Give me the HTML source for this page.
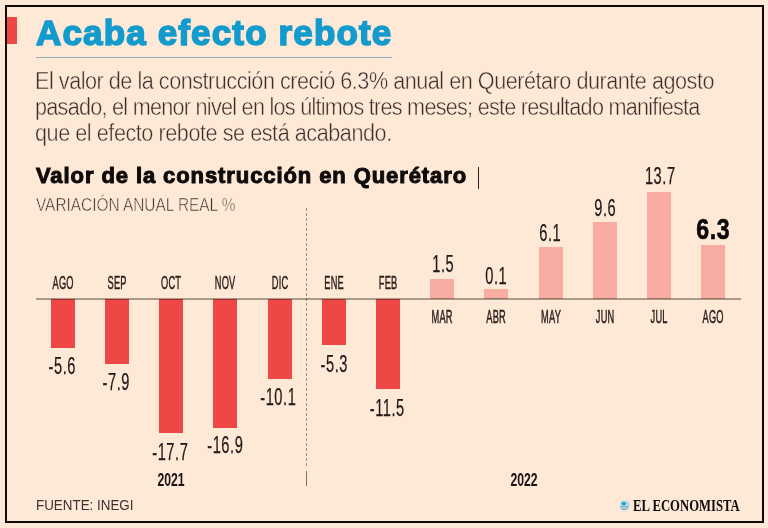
<!DOCTYPE html>
<html lang="es">
<head>
<meta charset="utf-8">
<title>Acaba efecto rebote</title>
<style>
*{margin:0;padding:0;box-sizing:border-box}
html,body{width:768px;height:528px;overflow:hidden;background:#fee8d6}
body{position:relative;font-family:"Liberation Sans",sans-serif;color:#2f2826}
.abs{position:absolute;white-space:nowrap}
#frame{position:absolute;left:5px;top:5px;width:759px;height:518px;border:2px solid #0d0a09;background:#fee8d6}
#marker{position:absolute;left:7px;top:17px;width:10px;height:27px;background:#ed4845}
#title{position:absolute;left:36px;top:11px;font:bold 35px/44px "Liberation Sans",sans-serif;color:#149bcd;letter-spacing:1.15px;-webkit-text-stroke:1.6px #149bcd}
#uline{position:absolute;left:36px;top:57px;width:356px;height:1px;background:#8fb0b8}
.lead{position:absolute;left:35px;font:23.5px/26px "Liberation Sans",sans-serif;color:#3a2f2b;transform:scaleX(0.92);transform-origin:0 0;-webkit-text-stroke:0.45px #fee8d6}
#h2{position:absolute;left:36px;top:162px;font:bold 22px/28px "Liberation Sans",sans-serif;color:#0f0b0a;letter-spacing:0.91px;-webkit-text-stroke:1px #0f0b0a}
#pipe{position:absolute;left:478px;top:166.5px;width:1px;height:22px;background:#2a1f1a}
#sub{position:absolute;left:36px;top:193.8px;font:18px/22px "Liberation Sans",sans-serif;color:#3b322e;transform:scaleX(0.855);transform-origin:0 0;-webkit-text-stroke:0.5px #fee8d6}
.bar{position:absolute;width:24px}
.neg{background:#ed4845}
.pos{background:#f8aca2}
#axis{position:absolute;left:36px;top:298px;width:705px;height:2px;background:#aaa9a4;mix-blend-mode:multiply}
#sep{position:absolute;left:306px;top:208px;width:1px;height:260px;background:repeating-linear-gradient(to bottom,#9a8e86 0 3px,transparent 3px 5px)}
#sep2{position:absolute;left:306px;top:471px;width:1px;height:15px;background:#7d716b}
.lbl{position:absolute;width:60px;margin-left:-30px;padding-left:0.5px;text-align:center;font:18.5px/20px "Liberation Sans",sans-serif;color:#2b211d;transform:scaleX(0.5);letter-spacing:0.5px;-webkit-text-stroke:0.5px #2b211d}
.val{position:absolute;width:80px;margin-left:-40px;padding-left:0.86px;text-align:center;font:23px/24px "Liberation Sans",sans-serif;color:#1f1918;transform:scaleX(0.636);letter-spacing:0.86px;-webkit-text-stroke:0.25px #1f1918}
.yr{position:absolute;width:60px;margin-left:-30px;text-align:center;font:bold 18px/20px "Liberation Sans",sans-serif;color:#1a1412;transform:scaleX(0.68)}
#src{position:absolute;left:36px;top:495px;font:15.4px/20px "Liberation Sans",sans-serif;color:#3a3130;transform:scaleX(0.87);transform-origin:0 0}
#logo{position:absolute;left:619px;top:500px;width:11px;height:11px}
#brand{position:absolute;left:633px;top:496.5px;font:bold 15.7px/18px "Liberation Serif",serif;color:#0f0b0a;transform:scaleX(0.81);transform-origin:0 0}
</style>
</head>
<body>
<div id="frame"></div>
<div id="marker"></div>
<div id="title">Acaba efecto rebote</div>
<div id="uline"></div>
<div class="lead abs" style="top:68px;letter-spacing:-0.52px">El valor de la construcción creció 6.3% anual en Querétaro durante agosto</div>
<div class="lead abs" style="top:94px;letter-spacing:-0.8px">pasado, el menor nivel en los últimos tres meses; este resultado manifiesta</div>
<div class="lead abs" style="top:120px;letter-spacing:-0.49px">que el efecto rebote se está acabando.</div>
<div id="h2" class="abs">Valor de la construcción en Querétaro</div>
<div id="pipe"></div>
<div id="sub" class="abs">VARIACIÓN ANUAL REAL %</div>

<div id="sep"></div>
<div id="sep2"></div>

<!-- bars -->
<div class="bar neg" style="left:51px;top:299px;height:49px"></div>
<div class="bar neg" style="left:105px;top:299px;height:65px"></div>
<div class="bar neg" style="left:159px;top:299px;height:134px"></div>
<div class="bar neg" style="left:213px;top:299px;height:128.5px"></div>
<div class="bar neg" style="left:268px;top:299px;height:80px"></div>
<div class="bar neg" style="left:322px;top:299px;height:46px"></div>
<div class="bar neg" style="left:376px;top:299px;height:90px"></div>
<div class="bar pos" style="left:430px;top:279px;height:20px"></div>
<div class="bar pos" style="left:484px;top:289px;height:10px"></div>
<div class="bar pos" style="left:539px;top:247px;height:52px"></div>
<div class="bar pos" style="left:593px;top:222px;height:77px"></div>
<div class="bar pos" style="left:647px;top:192px;height:107px"></div>
<div class="bar pos" style="left:701px;top:245px;height:54px"></div>
<div id="axis"></div>

<!-- month labels -->
<div class="lbl" style="left:63px;top:273px">AGO</div>
<div class="lbl" style="left:117px;top:273px">SEP</div>
<div class="lbl" style="left:171px;top:273px">OCT</div>
<div class="lbl" style="left:225px;top:273px">NOV</div>
<div class="lbl" style="left:280px;top:273px">DIC</div>
<div class="lbl" style="left:334px;top:273px">ENE</div>
<div class="lbl" style="left:388px;top:273px">FEB</div>
<div class="lbl" style="left:442px;top:306.5px">MAR</div>
<div class="lbl" style="left:496px;top:306.5px">ABR</div>
<div class="lbl" style="left:551px;top:306.5px">MAY</div>
<div class="lbl" style="left:605px;top:306.5px">JUN</div>
<div class="lbl" style="left:659px;top:306.5px">JUL</div>
<div class="lbl" style="left:713px;top:306.5px">AGO</div>

<!-- values -->
<div class="val" style="left:62.4px;top:353.8px">-5.6</div>
<div class="val" style="left:116.0px;top:369.6px">-7.9</div>
<div class="val" style="left:170.2px;top:440.0px">-17.7</div>
<div class="val" style="left:225.4px;top:433.0px">-16.9</div>
<div class="val" style="left:278px;top:385.2px">-10.1</div>
<div class="val" style="left:333.8px;top:352.3px">-5.3</div>
<div class="val" style="left:387.0px;top:395.6px">-11.5</div>
<div class="val" style="left:442.6px;top:252.2px">1.5</div>
<div class="val" style="left:495.8px;top:263.8px">0.1</div>
<div class="val" style="left:550.0px;top:221.2px">6.1</div>
<div class="val" style="left:605.4px;top:196.0px">9.6</div>
<div class="val" style="left:659.8px;top:163.6px">13.7</div>
<div class="val" style="left:713px;top:216.5px;font-weight:bold;font-size:30px;transform:scaleX(0.77);color:#0d0908;-webkit-text-stroke:0.7px #0d0908">6.3</div>

<div class="yr" style="left:170.5px;top:469.5px">2021</div>
<div class="yr" style="left:524px;top:469.5px">2022</div>

<div id="src" class="abs">FUENTE: INEGI</div>
<svg id="logo" viewBox="0 0 22 22">
  <circle cx="11" cy="11" r="10.5" fill="#c6ecf0"/>
  <ellipse cx="9.5" cy="7.2" rx="5.2" ry="4.3" fill="#3aa3cc"/>
  <path d="M14.5 2.5 A9 9 0 0 1 19.5 9.5" stroke="#86b3c0" stroke-width="1.6" fill="none"/>
  <path d="M2.5 12.5 Q11 14.5 19.5 11.5" stroke="#6f98aa" stroke-width="1.5" fill="none"/>
  <path d="M3 15.8 Q11 17.5 19 14.8" stroke="#6f98aa" stroke-width="1.5" fill="none"/>
  <path d="M5 19 Q11 20.3 17 18.3" stroke="#6f98aa" stroke-width="1.4" fill="none"/>
</svg>
<div id="brand" class="abs">EL ECONOMISTA</div>
</body>
</html>
